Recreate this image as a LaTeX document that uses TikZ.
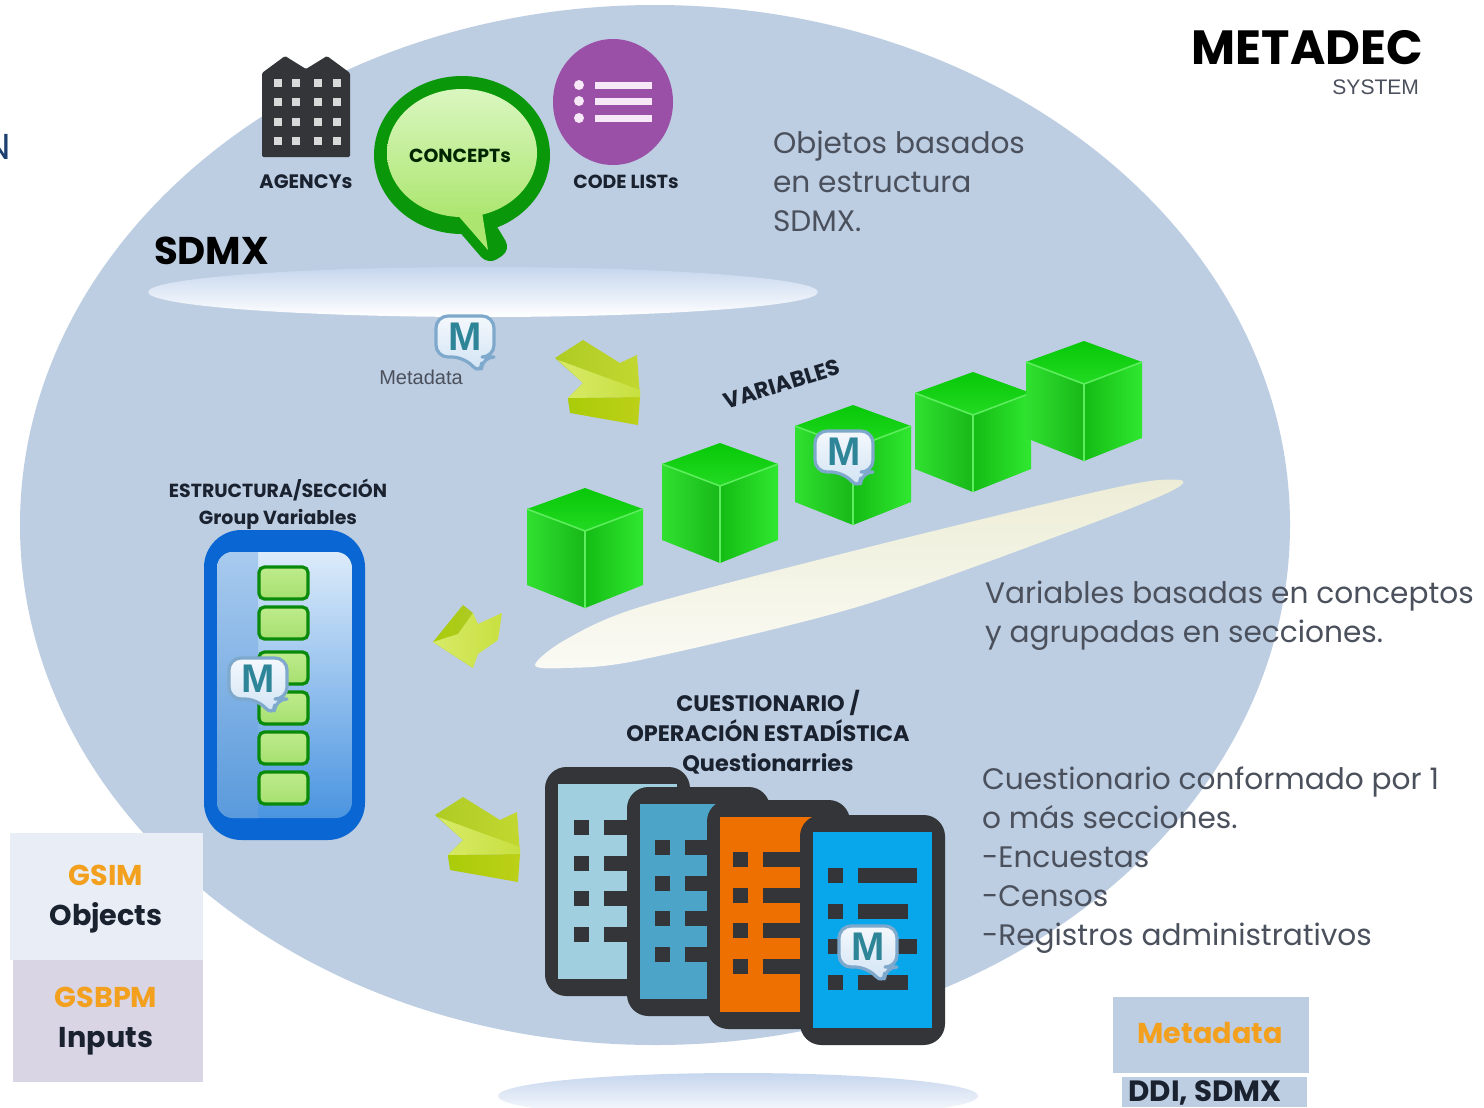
\documentclass[tikz,border=0pt]{standalone}
\usepackage{fontspec}
\setmainfont{Poppins}
\newfontfamily\mbfont{Liberation Sans}
\usetikzlibrary{calc}
\definecolor{bgblue}{HTML}{BDCDE2}
\definecolor{darkt}{HTML}{1A2230}
\definecolor{greyt}{HTML}{4A505C}
\definecolor{docdark}{HTML}{333538}
\definecolor{mteal}{HTML}{2E8598}
\definecolor{morange}{HTML}{F2A01E}
\definecolor{mborder}{HTML}{7FA9CC}
\definecolor{mtop}{HTML}{F4F8FC}
\definecolor{mbot}{HTML}{CFE2F4}
\definecolor{cubeA}{HTML}{08C808}
\definecolor{cubeB}{HTML}{22DA22}
\definecolor{cubeC}{HTML}{30E030}
\definecolor{cubeD}{HTML}{18B818}
\definecolor{cubeE}{HTML}{14BC14}
\definecolor{cubeF}{HTML}{30E830}
\definecolor{cubeline}{HTML}{5CEE5C}
\definecolor{arA}{HTML}{AACC08}
\definecolor{arB}{HTML}{BCD018}
\definecolor{arC}{HTML}{AECB24}
\definecolor{arD}{HTML}{C2D830}
\definecolor{arE}{HTML}{D8EA68}
\definecolor{arF}{HTML}{C8E040}
\definecolor{bubO}{HTML}{0A980A}
\definecolor{bubT}{HTML}{DAF6C0}
\definecolor{bubM}{HTML}{C8F09E}
\definecolor{bubB}{HTML}{ACE670}
\definecolor{boxblue}{HTML}{0A66D2}
\definecolor{boxtop}{HTML}{DCEBFA}
\definecolor{boxbot}{HTML}{4A94E0}
\definecolor{stripT}{HTML}{A8CAEE}
\definecolor{stripB}{HTML}{5A9ADC}
\definecolor{sboxB}{HTML}{0A8A0A}
\definecolor{sboxT}{HTML}{BEEB8C}
\definecolor{sboxM}{HTML}{A6E070}
\definecolor{purp}{HTML}{9B50A8}
\definecolor{purpw}{HTML}{F6E8F6}
\definecolor{docA}{HTML}{A0D0E0}
\definecolor{docB}{HTML}{4CA4C8}
\definecolor{docC}{HTML}{EE7000}
\definecolor{docD}{HTML}{08A6EA}
\definecolor{gsimbg}{HTML}{E9EEF6}
\definecolor{gsbpmbg}{HTML}{D9D5E4}
\definecolor{ntext}{HTML}{1E4070}
\definecolor{disktop}{HTML}{C6D6EE}
\definecolor{diskv}{HTML}{E8E8CC}
\tikzset{
  every node/.style={inner sep=0pt,outer sep=0pt},
  lab/.style={align=center,text=darkt,font=\bfseries\fontsize{14.2}{20}\selectfont},
  qlab/.style={align=center,text=darkt,font=\bfseries\fontsize{16.8}{22.6}\selectfont},
  body/.style={align=left,anchor=north west,text=greyt,font=\fontsize{22.2}{29.2}\selectfont},
  sidelab/.style={align=center,font=\bfseries\fontsize{21.5}{29.5}\selectfont,text=darkt},
  smallbox/.style={draw=sboxB,line width=2.4pt,rounded corners=4pt,top color=sboxT,bottom color=sboxM},
}
\newcommand{\mbadge}[4][1]{%
  \begin{scope}[shift={(#2,#3)},scale=#1]
    \fill[draw=#4,line width=2.4pt,top color=mtop,bottom color=mbot,rounded corners=9pt,line join=round]
      (-29,-24) -- (29,-24) -- (29,17) -- (17,17) -- (16,35) -- (-1,17) -- (-29,17) -- cycle;
    \node[text=mteal,font=\mbfont\bfseries\fontsize{30}{30}\selectfont] at (0,-3) {M};
  \end{scope}}
\newcommand{\cube}[2]{%
  \begin{scope}[shift={(#1,#2)}]
    \path[top color=cubeA,bottom color=cubeB,draw=none] (0,0) -- (58,21) -- (0,43) -- (-58,21) -- cycle;
    \path[left color=cubeC,right color=cubeD,draw=none] (-58,21) -- (0,43) -- (0,120) -- (-58,97) -- cycle;
    \path[left color=cubeE,right color=cubeF,draw=none] (0,43) -- (58,21) -- (58,97) -- (0,120) -- cycle;
    \draw[cubeline,line width=1.2pt,line join=round] (-58,21) -- (0,43) -- (58,21) (0,43) -- (0,120);
  \end{scope}}
\newcommand{\arrowthree}[2]{%
  \begin{scope}[shift={(#1,#2)}]
    \path[left color=arA,right color=arB,draw=none,line join=round] (13,58) -- (85,57) -- (83,85) -- (15,73) -- cycle;
    \path[left color=arC,right color=arD,draw=none,line join=round] (0,18) -- (28,0) -- (65,23) -- (82,15) -- (85,57) -- (13,58) -- (28,43) -- cycle;
    \path[left color=arE,right color=arF,draw=none,line join=round] (3,20) -- (85,50) -- (85,57) -- (13,58) -- (28,43) -- cycle;
  \end{scope}}
\newcommand{\docu}[7]{%
  \fill[docdark,rounded corners=16pt] (#1,#2) rectangle (#3,#4);
  \fill[#5] ({#1+13},{#2+17}) rectangle ({#3-13},{#4-17});
  \foreach \ry in {0,36,71,107}{
    \fill[docdark] (#6,{#7+\ry}) rectangle ({#6+15},{#7+\ry+15});
    \fill[docdark] ({#6+30},{#7+\ry}) rectangle ({#3-28},{#7+\ry+15});
  }}
\begin{document}
\begin{tikzpicture}[x=0.75pt,y=-0.75pt]
\useasboundingbox (0,0) rectangle (1484,1107);
\clip (0,0) rectangle (1484,1107);
\fill[white] (0,0) rectangle (1484,1107);
% big ellipse
\fill[bgblue] (655,525) ellipse [x radius=635,y radius=520];
% clipped N
\node[text=ntext,font=\fontsize{27}{27}\selectfont,anchor=east] (edgeN) at (11,147) {N};
% SDMX disk
\shade[top color=disktop,bottom color=white] (483,292) ellipse [x radius=335,y radius=25];
% bottom disk
\shade[top color=disktop,bottom color=white] (738,1096) ellipse [x radius=240,y radius=23];
% variables disk
\begin{scope}
  \clip plot[smooth cycle,tension=0.5] coordinates {(535,665) (565,640) (640,607) (857,550) (1074,497) (1150,481) (1183,481) (1165,494) (1074,530) (857,607) (640,660) (565,668)};
  \shade[top color=diskv,bottom color=white,rotate around={16:(859,574)}] (409,534) rectangle (1309,614);
\end{scope}
% building
\fill[docdark,rounded corners=1pt] (262,157) -- (262,73) -- (285,56) -- (306,69) -- (327,56) -- (350,73) -- (350,157) -- cycle;
\foreach \wx in {278,296,318,337}
  \foreach \wy in {83,102,122,141}
    \fill[white!85!black] (\wx-4,\wy-4) rectangle (\wx+4,\wy+4);
\node[lab,font=\bfseries\fontsize{14.6}{20}\selectfont] (agency) at (306,182) {AGENCYs};
% concepts bubble
\fill[bubO] (462,155) ellipse [x radius=88,y radius=79];
\fill[bubO,rounded corners=8pt] (445,215) -- (488,265) -- (511,250) -- (490,215) -- cycle;
\shade[top color=bubT,middle color=bubM,bottom color=bubB] (462,153) ellipse [x radius=75,y radius=64];
\shade[top color=bubB,bottom color=bubB] (455,212) -- (488,250) -- (482,212) -- cycle;
\node[lab,text=black!85!green] (concepts) at (460,156) {CONCEPTs};
% code list
\fill[purp] (613,102) ellipse [x radius=60,y radius=63];
\foreach \ly in {85,101,118}{
  \fill[purpw] (579,\ly) circle [radius=5];
  \fill[purpw] (595,\ly-3) rectangle (652,\ly+4);
}
\node[lab] (codelists) at (626,182) {CODE LISTs};
\node[anchor=west,text=black,font=\bfseries\fontsize{29}{29}\selectfont] (sdmx) at (154,251) {SDMX};
\node[body] (obj) at (773,131) {Objetos basados\\en estructura\\SDMX.};
% METADEC
\node[anchor=east,text=black,font=\bfseries\fontsize{36}{36}\selectfont] (metadec) at (1423,48) {METADEC};
\node[anchor=east,text=greyt,font=\mbfont\fontsize{15.8}{16}\selectfont] (system) at (1419,87) {SYSTEM};
% metadata badge
\mbadge{465}{340}{mborder}
\node[text=greyt,font=\mbfont\fontsize{15}{15}\selectfont] (metadata) at (421,377) {Metadata};
% arrows
\arrowthree{555}{340}
\arrowthree{435}{797}
\path[left color=arA,right color=arC,draw=none] (433,642) -- (463,605) -- (473,613) -- (462,652) -- (473,668) -- cycle;
\path[left color=arE,right color=arF,draw=none] (433,642) -- (458,634) -- (473,613) -- (478,624) -- (502,613) -- (498,640) -- (478,654) -- (473,668) -- cycle;
% cubes
\cube{585}{488}
\cube{720}{443}
\cube{853}{405}
\cube{973}{372}
\cube{1084}{341}
\node[rotate=17,text=darkt,font=\bfseries\fontsize{16.6}{16.6}\selectfont] (variables) at (782,384) {VARIABLES};
\mbadge{844}{455}{mborder}
\node[body] (vartext) at (985,581) {Variables basadas en conceptos\\y agrupadas en secciones.};
% estructura
\node[lab] (estr) at (278,504) {ESTRUCTURA/SECCIÓN\\Group Variables};
\fill[boxblue,rounded corners=28pt] (204,530) rectangle (365,840);
\begin{scope}
  \clip[rounded corners=12pt] (217,552) rectangle (352,818);
  \shade[top color=boxtop,bottom color=boxbot] (217,552) rectangle (352,818);
  \shade[top color=stripT,bottom color=stripB] (217,552) rectangle (258,818);
\end{scope}
\foreach \sy in {583,623,668,708,748,788}
  \draw[smallbox] (259,\sy-16) rectangle (308,\sy+16);
\mbadge{258}{682}{mborder}
% cuestionario
\node[qlab] (cuest) at (768,732) {CUESTIONARIO /\\OPERACIÓN ESTADÍSTICA\\Questionarries};
% documents
\docu{545}{767}{690}{996}{docA}{574}{820}
\docu{627}{787}{770}{1016}{docB}{655}{840}
\docu{707}{800}{850}{1029}{docC}{733}{852}
\docu{800}{815}{945}{1045}{docD}{828}{868}
\fill[docD] (908,903) rectangle (917,920);
\fill[docD] (908,975) rectangle (917,992);
\mbadge{868}{950}{mborder}
\node[body] (cuesttext) at (982,767) {Cuestionario conformado por 1\\o más secciones.\\-Encuestas\\-Censos\\-Registros administrativos};
% side boxes
\fill[gsimbg] (10,833) rectangle (203,960);
\fill[gsbpmbg] (13,960) rectangle (203,1082);
\node[sidelab] (gsim) at (106,899) {\textcolor{morange}{GSIM}\\Objects};
\node[sidelab] (gsbpm) at (106,1021) {\textcolor{morange}{GSBPM}\\Inputs};
\fill[bgblue] (1113,997) rectangle (1309,1073);
\node[text=morange,font=\bfseries\fontsize{21.5}{22}\selectfont] (mdbox) at (1210,1033) {Metadata};
\fill[bgblue] (1122,1077) rectangle (1307,1107);
\node[text=darkt,font=\bfseries\fontsize{22}{22}\selectfont] (ddi) at (1205,1093) {DDI, SDMX};
\end{tikzpicture}
\end{document}
